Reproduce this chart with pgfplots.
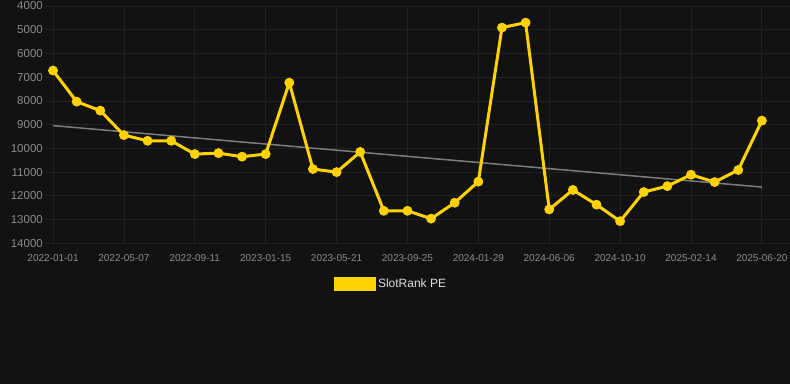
\documentclass[border=0pt]{standalone}
\usepackage{pgfplots}
\pgfplotsset{compat=1.18}
\usepackage{fontspec}
\setmainfont{Liberation Sans}
\definecolor{bgc}{HTML}{121212}
\definecolor{gridc}{HTML}{222222}
\definecolor{gold}{HTML}{FFD200}
\definecolor{trendc}{HTML}{7C7C7C}
\definecolor{tickc}{HTML}{8C8C8C}
\definecolor{legc}{HTML}{DDDDDD}
\begin{document}
\begin{tikzpicture}
\useasboundingbox (0,0) rectangle (790pt,384pt);
\fill[bgc] (0,0) rectangle (790pt,384pt);
\begin{axis}[
  at={(45pt,140.7pt)}, anchor=south west,
  width=745pt, height=237.3pt, scale only axis,
  xmin=-0.34, xmax=31.19,
  ymin=4000, ymax=14000, y dir=reverse,
  axis line style={draw=none},
  grid=major, major grid style={gridc, line width=0.8pt},
  xtick={0,3,6,9,12,15,18,21,24,27,30},
  xticklabels={2022-01-01,2022-05-07,2022-09-11,2023-01-15,2023-05-21,2023-09-25,2024-01-29,2024-06-06,2024-10-10,2025-02-14,2025-06-20},
  ytick={4000,5000,6000,7000,8000,9000,10000,11000,12000,13000,14000},
  scaled y ticks=false,
  yticklabel style={font=\fontsize{11.5}{13}\selectfont, text=tickc, inner xsep=2pt},
  xticklabel style={font=\fontsize{10}{12}\selectfont, text=tickc, yshift=-8pt},
  /pgf/number format/assume math mode=true,
  /pgf/number format/1000 sep={},
  tick style={draw=none},
  clip=false,
  legend style={at={(axis description cs:0.4645,-0.1715)}, anchor=center, draw=none, fill=none, text=legc, font=\fontsize{12}{14}\selectfont},
  legend image code/.code={\fill[gold] (0pt,-5.5pt) rectangle (39pt,5.5pt);},
]
\addplot[trendc, line width=1.5pt, forget plot] coordinates {(0,9040) (30,11630)};
\addplot[gold, line width=3pt, mark=*, mark size=4.6pt, mark options={solid, fill=gold, draw=gold, line width=0.6pt}] coordinates {
(0,6720) (1,8030) (2,8410) (3,9440) (4,9680) (5,9680) (6,10240) (7,10200) (8,10350) (9,10240)
(10,7230) (11,10870) (12,11000) (13,10150) (14,12630) (15,12630) (16,12960) (17,12290) (18,11400) (19,4910)
(20,4700) (21,12570) (22,11750) (23,12370) (24,13070) (25,11840) (26,11590) (27,11110) (28,11420) (29,10910)
(30,8830)};
\addlegendentry{SlotRank PE}
\end{axis}
\end{tikzpicture}
\end{document}
